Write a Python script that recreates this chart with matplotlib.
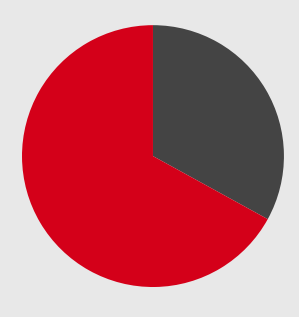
import matplotlib
matplotlib.use('Agg')
import matplotlib.pyplot as plt

labels = ['Gray', 'Red']
values = [33, 67]
colors = ['#444444', '#d40019']

fig = plt.figure(figsize=(2.99, 3.17), dpi=100)
fig.patch.set_facecolor('#e8e8e8')
ax = fig.add_axes([0.0736, 0.0946, 0.876, 0.826])
ax.set_facecolor('#e8e8e8')
ax.pie(values, colors=colors, startangle=90, counterclock=False, radius=1)
ax.set_xlim(-1, 1)
ax.set_ylim(-1, 1)
ax.set_aspect('auto')
ax.axis('off')

fig.savefig('out.png', dpi=100, facecolor=fig.get_facecolor())
